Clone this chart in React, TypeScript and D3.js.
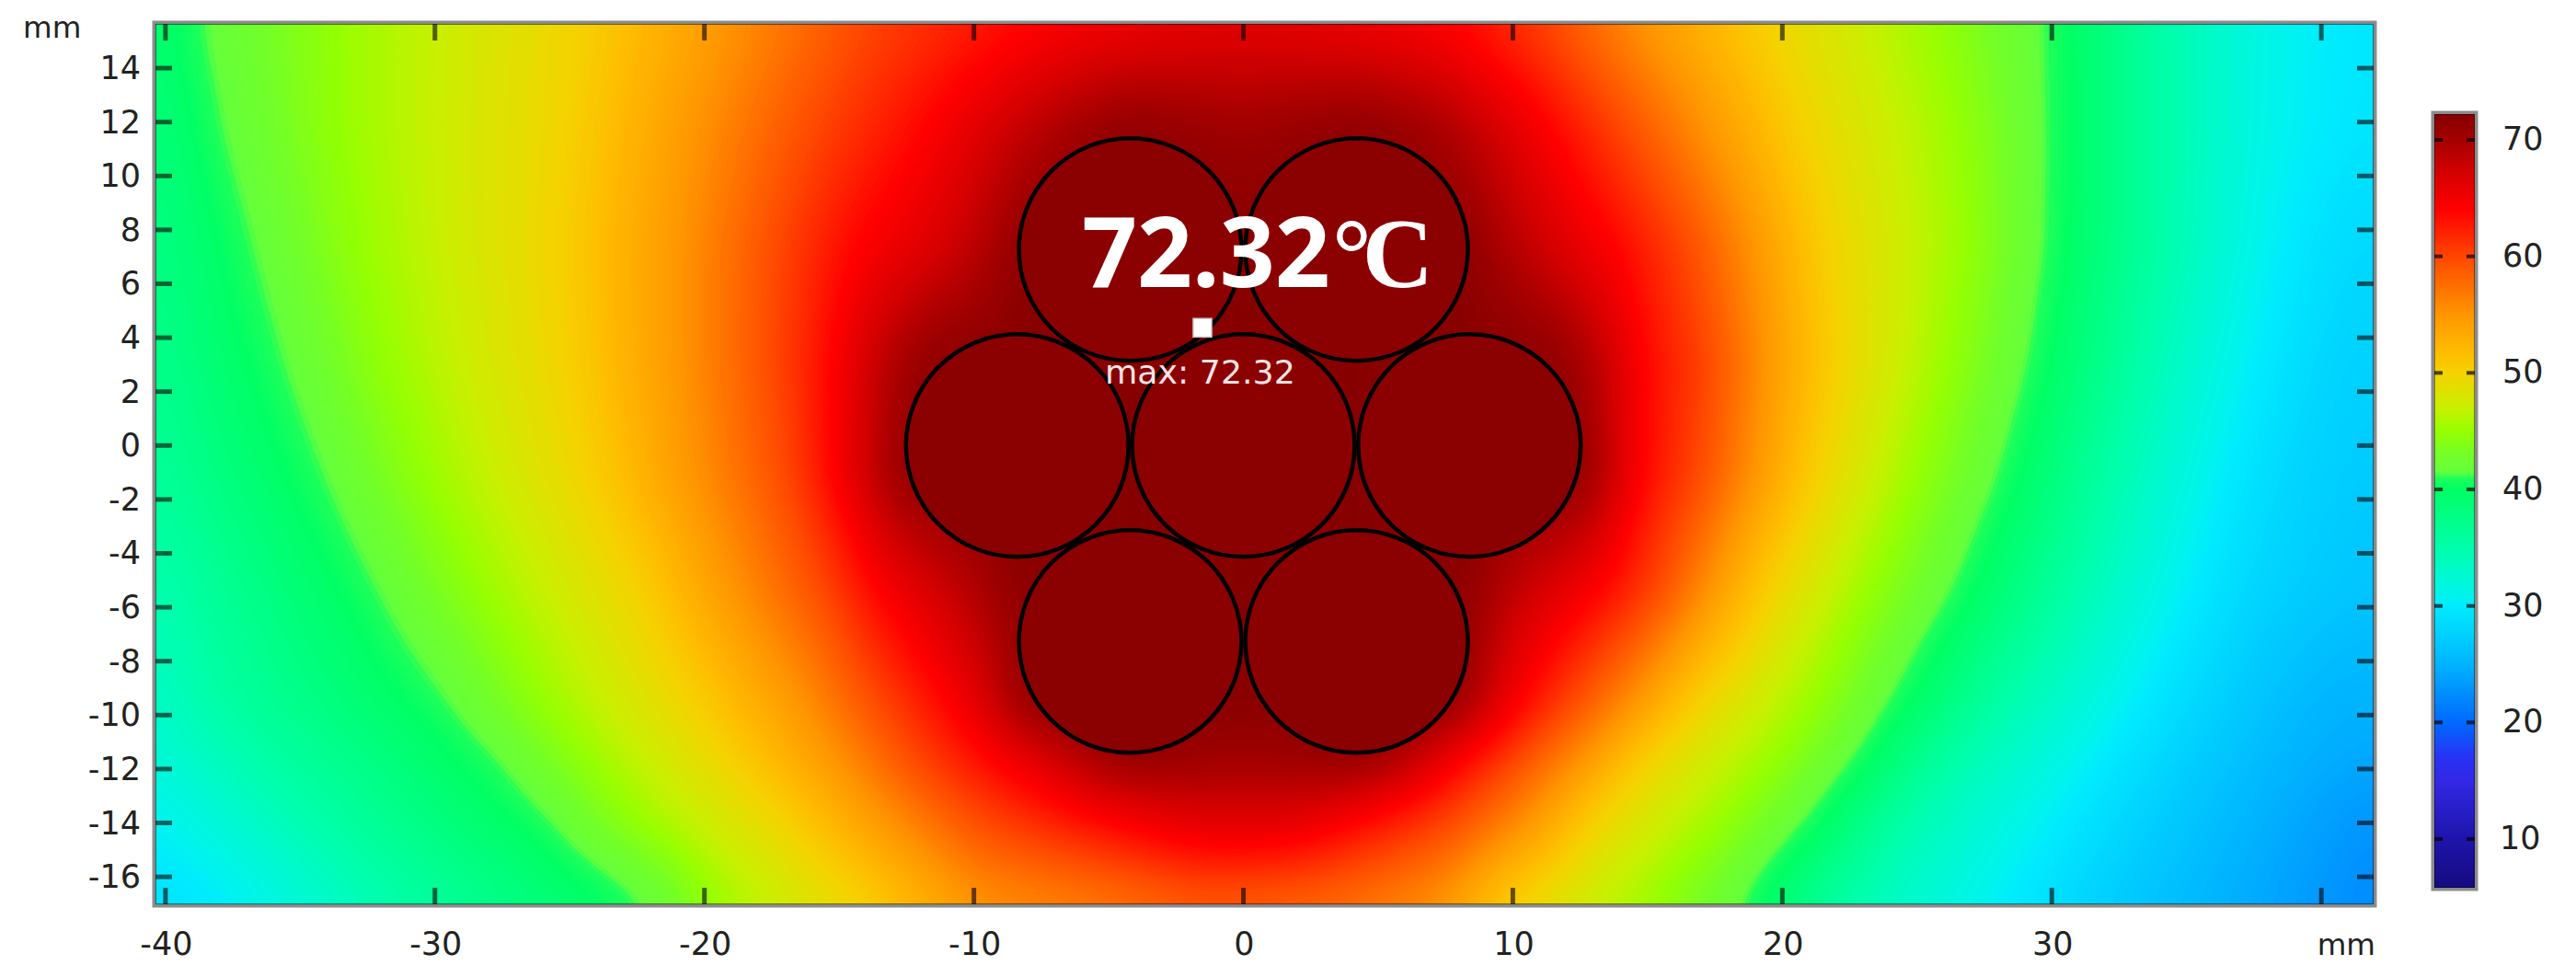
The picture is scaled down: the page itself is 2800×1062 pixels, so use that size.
import * as React from 'react';
import * as d3 from 'd3';

// tick values
const xTicks = [-40, -30, -20, -10, 0, 10, 20, 30, 40];
const xTickLabels = ['-40', '-30', '-20', '-10', '0', '10', '20', '30', ''];
const yTicks = d3.range(-16, 15, 2);
const barTicks = [10, 20, 30, 40, 50, 60, 70];

// conductor strands, mm
const strandX = [-4.2, 4.2, -8.39, 0, 8.39, -4.2, 4.2];
const strandY = [7.27, 7.27, 0, 0, 0, -7.27, -7.27];
const strandR = 4.13;

const maxValue = 72.32;
const maxX = -1.52;
const maxY = 4.37;

// colour table
const colorTemps = [5.6, 10, 15, 17, 20, 25, 30, 31, 35, 40, 41, 41.4, 43, 45, 47, 50, 52, 55, 60, 64, 67, 70, 72.4];
const colorValues = [
  '#140a7d', '#1e14aa', '#3228e6', '#2832f5', '#0069ff', '#00b4ff', '#00ebff', '#00f5eb',
  '#00ffaa', '#00ff64', '#1eff5a', '#64ff3c', '#73ff28', '#96ff00', '#c8f000', '#f5d200',
  '#ffb900', '#ff9600', '#ff4600', '#ff0000', '#d70000', '#a50000', '#820000',
];

// temperature read along horizontal lines of the plot: [x mm, deg C]
const rowY = [15.64, 11.6, 7.4, 3.1, -1.1, -5.4, -9.6, -11.7, -13.8, -17.02];
const row0 = [[-40.4, 38.5], [-39.1, 41], [-33.6, 45], [-24.6, 50], [-19.1, 55], [-13.9, 60], [-7.2, 64], [-3, 65.5], [0, 66], [3, 65.5], [7.5, 64], [11.2, 60], [14.7, 55], [19.3, 50], [25.7, 45], [30, 41], [34.2, 35], [38.1, 31], [42, 29.5]];
const row1 = [[-40.4, 38], [-38.2, 41], [-33.5, 45], [-25, 50], [-20.4, 55], [-15.9, 60], [-11.8, 64], [-9, 67.5], [-6.2, 70.5], [-4.3, 72], [0, 70.5], [4.3, 72], [7, 70.5], [9.3, 67.5], [11.5, 64], [14.1, 60], [17.3, 55], [20.7, 50], [26.6, 45], [30, 41], [34.2, 35], [38, 31], [42, 29.2]];
const row2 = [[-40.4, 37.5], [-37, 41], [-32.8, 45], [-25.4, 50], [-20.9, 55], [-17.2, 60], [-14.4, 64], [-12.2, 65.8], [-10.3, 68], [-9, 70], [-8.4, 72], [8.4, 72], [9.2, 70], [10.7, 68], [12.3, 65.8], [13.8, 64], [16.4, 60], [19, 55], [21.6, 50], [26.9, 45], [29.9, 41], [34.2, 35], [37.5, 31], [40.7, 28.6], [42, 28.2]];
const row3 = [[-40.4, 37], [-35.8, 41], [-31.8, 45], [-25.1, 50], [-20.9, 55], [-17.3, 60], [-15.2, 64], [-13.7, 68], [-12.5, 70.5], [-11.2, 72], [11.2, 72], [12.4, 70.5], [13.5, 68], [14.7, 64], [17.3, 60], [19.4, 55], [22, 50], [26.2, 45], [29.3, 41], [33.3, 35], [36.6, 31], [40.1, 28], [42, 27.5]];
const row4 = [[-40.4, 36], [-34.3, 41], [-30.4, 45], [-24.3, 50], [-20.5, 55], [-16.8, 60], [-15.2, 64], [-14.2, 67], [-13.2, 70], [-12.4, 72], [12.5, 72], [13.2, 70], [13.9, 67], [14.6, 64], [16.9, 60], [19, 55], [21.3, 50], [25, 45], [28.2, 41], [32.2, 35], [35.5, 31], [38.8, 28], [42, 27]];
const row5 = [[-40.4, 34.5], [-32.3, 41], [-28.3, 45], [-22.4, 50], [-19, 55], [-15.4, 60], [-13.6, 64], [-11.5, 67], [-9.5, 70], [-8, 72], [8.2, 72], [9, 70], [11, 67], [13.2, 64], [15.4, 60], [17.3, 55], [19.5, 50], [23.2, 45], [26.5, 41], [30.7, 35], [34.2, 31], [37.5, 28], [42, 26.3]];
const row6 = [[-40.4, 33], [-38.5, 35], [-29.6, 41], [-26, 45], [-20.4, 50], [-16.4, 55], [-13.4, 60], [-10.9, 64], [-9.4, 67], [-8.6, 70], [-7.8, 72], [7.8, 72], [8.4, 70], [9.3, 67], [10.2, 64], [12.1, 60], [14.5, 55], [16.7, 50], [21.2, 45], [24.1, 41], [28.1, 35], [32.2, 31], [35.5, 28], [40.1, 25], [42, 24.8]];
const row7 = [[-40.4, 32], [-36.5, 35], [-27.7, 41], [-24.3, 45], [-19, 50], [-15.1, 55], [-12.1, 60], [-9.2, 64], [-7, 67], [-5.6, 70], [-4.2, 71.5], [0, 70], [4.2, 71.5], [5.6, 70], [6.8, 67], [7.9, 64], [10, 60], [12.6, 55], [14.8, 50], [19.7, 45], [22.8, 41], [26.2, 35], [30.7, 31], [34.2, 28], [38.8, 25], [42, 24]];
const row8 = [[-40.4, 30.5], [-34.5, 35], [-25.9, 41], [-22.7, 45], [-17, 50], [-13.4, 55], [-9.8, 60], [-5.3, 64], [-2, 66.5], [0, 66.8], [2, 66.5], [4.3, 64], [7.9, 60], [10.8, 55], [13, 50], [17.9, 45], [21.2, 41], [24.4, 35], [29.1, 31], [32.9, 28], [37.5, 25], [41.4, 23], [42, 22.9]];
const row9 = [[-40.4, 29], [-37.7, 30], [-31.5, 35], [-23.3, 40], [-22, 41], [-19.6, 45], [-13.9, 50], [-9.8, 55], [-5.3, 56.5], [-1.5, 58.5], [3.2, 57.5], [7.3, 55], [9.7, 50], [15.1, 45], [18.6, 41], [22, 35], [27, 31], [31, 28], [35.9, 25], [40.1, 23], [42, 22]];
const fieldRows = [row0, row1, row2, row3, row4, row5, row6, row7, row8, row9];

const width = 2800;
const height = 1062;
const plot = { left: 169, right: 2580, top: 26, bottom: 983 };
const bar = { left: 2646, right: 2690, top: 124, bottom: 965 };
const font = '"DejaVu Sans"';
const cell = 4;

const x = d3.scaleLinear().domain([-40.37, 41.94]).range([plot.left, plot.right]);
const y = d3.scaleLinear().domain([-17.02, 15.64]).range([plot.bottom, plot.top]);
const barY = d3.scaleLinear().domain([10, 70]).range([912, 152]);
const color = d3.scaleLinear<string>().domain(colorTemps).range(colorValues).interpolate(d3.interpolateRgb).clamp(true);

function buildField() {
  const w = Math.ceil((plot.right - plot.left) / cell);
  const h = Math.ceil((plot.bottom - plot.top) / cell);
  const rowScales = fieldRows.map(r =>
    d3.scaleLinear().domain(r.map(d => d[0])).range(r.map(d => d[1])).clamp(true)
  );
  const data = new Float64Array(w * h);
  for (let i = 0; i < w; i++) {
    const mmX = x.invert(plot.left + (i + 0.5) * cell);
    const col = d3.scaleLinear().domain(rowY).range(rowScales.map(s => s(mmX))).clamp(true);
    for (let j = 0; j < h; j++) {
      data[j * w + i] = col(y.invert(plot.top + (j + 0.5) * cell));
    }
  }
  d3.blur2({ data, width: w, height: h }, 5);
  return { data, w, h };
}

function Field() {
  const paths = React.useMemo(() => {
    const { data, w, h } = buildField();
    const gen = d3.contours().size([w, h]);
    const path = d3.geoPath();
    return d3.range(22, 72.4, 0.2).map(t => ({ t, d: path(gen.contour(data as any, t) as any) || '' }));
  }, []);
  return (
    <g clipPath="url(#plot-clip)">
      <rect x={plot.left} y={plot.top} width={plot.right - plot.left} height={plot.bottom - plot.top} fill={color(22)} />
      <g transform={`translate(${plot.left},${plot.top}) scale(${cell})`}>
        {paths.map(p => <path key={p.t} d={p.d} fill={color(p.t + 0.1)} />)}
      </g>
    </g>
  );
}

export default function App() {
  const stops = d3.range(bar.top, bar.bottom + 1, 4);
  return (
    <svg width={width} height={height} style={{ position: 'absolute', left: 0, top: 0, background: '#fff' }} fontFamily={font}>
      <defs>
        <clipPath id="plot-clip">
          <rect x={plot.left} y={plot.top} width={plot.right - plot.left} height={plot.bottom - plot.top} />
        </clipPath>
        <linearGradient id="bar-grad" x1="0" x2="0" y1="0" y2="1">
          {stops.map(s => (
            <stop key={s} offset={(s - bar.top) / (bar.bottom - bar.top)} stopColor={color(barY.invert(s))} />
          ))}
        </linearGradient>
      </defs>

      <Field />

      {/* strands */}
      {strandX.map((cx, i) => (
        <circle key={i} cx={x(cx)} cy={y(strandY[i])} r={x(strandR) - x(0)} fill="#8b0000" stroke="#000" strokeWidth={4.5} />
      ))}

      {/* ticks inside the frame */}
      {xTicks.map(t => (
        <g key={t} fill="#000" fillOpacity={0.6}>
          <rect x={x(t) - 2.5} y={plot.top} width={5} height={18} />
          <rect x={x(t) - 2.5} y={plot.bottom - 18} width={5} height={18} />
        </g>
      ))}
      {yTicks.map(t => (
        <g key={t} fill="#000" fillOpacity={0.6}>
          <rect x={plot.left} y={y(t) - 2.5} width={18} height={5} />
          <rect x={plot.right - 18} y={y(t) - 2.5} width={18} height={5} />
        </g>
      ))}

      {/* frame */}
      <rect x={plot.left} y={plot.top} width={plot.right - plot.left} height={plot.bottom - plot.top} fill="none" stroke="#000" strokeOpacity={0.5} strokeWidth={2} />
      <rect x={plot.left - 2} y={plot.top - 2} width={plot.right - plot.left + 4} height={plot.bottom - plot.top + 4} fill="none" stroke="#8c8c8c" strokeWidth={3} />

      {/* tick labels */}
      {xTicks.map((t, i) => (
        <text key={t} x={x(t) + 1} y={1038} textAnchor="middle" fontSize={35} fill="#222">{xTickLabels[i]}</text>
      ))}
      {yTicks.map(t => (
        <text key={t} x={153} y={y(t) + 12} textAnchor="end" fontSize={35} fill="#222">{t}</text>
      ))}
      <text x={25} y={41} fontSize={32.5} fill="#222">mm</text>
      <text x={2582} y={1038} textAnchor="end" fontSize={32.5} fill="#222">mm</text>

      {/* colour bar */}
      <rect x={bar.left} y={bar.top} width={bar.right - bar.left} height={bar.bottom - bar.top} fill="url(#bar-grad)" />
      {barTicks.map(t => (
        <g key={t} fill="#000" fillOpacity={0.7}>
          <rect x={bar.left} y={barY(t) - 2} width={9} height={4} />
          <rect x={bar.right - 9} y={barY(t) - 2} width={9} height={4} />
        </g>
      ))}
      <rect x={bar.left} y={bar.top} width={bar.right - bar.left} height={bar.bottom - bar.top} fill="none" stroke="#000" strokeOpacity={0.45} strokeWidth={2} />
      <rect x={bar.left - 2} y={bar.top - 2} width={bar.right - bar.left + 4} height={bar.bottom - bar.top + 4} fill="none" stroke="#8c8c8c" strokeWidth={3} />
      {barTicks.map(t => (
        <text key={t} x={t === 10 ? 2717 : 2720} y={barY(t) + 11} fontSize={35} fill="#222">{t}</text>
      ))}

      {/* max marker */}
      <rect x={x(maxX) - 10} y={y(maxY) - 10} width={20} height={20} fill="#fff" stroke="#ccc" strokeWidth={1.5} />
      <text x={1201} y={417} fontSize={36.3} fill="#f2e4e4">max: {maxValue}</text>

      {/* big label */}
      <text x={1176} y={312} fontFamily='"Noto Sans"' fontWeight="bold" fontSize={105} fill="#fff">{maxValue}</text>
      <text x={1448} y={312} fontFamily='"Liberation Serif"' fontWeight="bold" fontSize={107} letterSpacing={-10} fill="#fff">°C</text>
    </svg>
  );
}
